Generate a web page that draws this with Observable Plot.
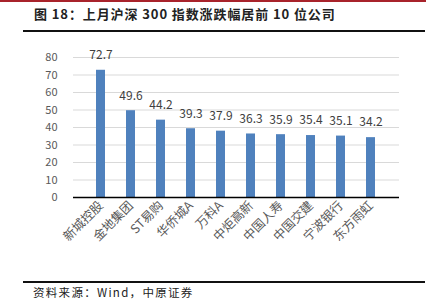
<!DOCTYPE html>
<html><head><meta charset="utf-8">
<script src="https://cdn.jsdelivr.net/npm/d3@7"></script>
<script src="https://cdn.jsdelivr.net/npm/@observablehq/plot@0.6"></script>
<style>
body{margin:0;background:#fff;width:433px;height:301px;position:relative;overflow:hidden;font-family:"Noto Sans CJK SC",sans-serif;}
#topbar{position:absolute;left:0;top:0;width:426px;height:2px;background:#a8232b;}
#title{position:absolute;left:34px;top:6px;font-size:13px;line-height:16px;font-weight:bold;color:#222;white-space:nowrap;letter-spacing:0.9px;}
#rule1{position:absolute;left:23px;top:30px;width:402px;height:2px;background:#111;}
#rule2{position:absolute;left:23px;top:281px;width:402px;height:2px;background:#111;}
#source{position:absolute;left:33px;top:286px;font-size:11.5px;line-height:13px;color:#222;white-space:nowrap;letter-spacing:1.3px;}
#chart{position:absolute;left:0;top:35px;}
</style></head><body>
<div id="topbar"></div>
<div id="title">图 18：上月沪深 300 指数涨跌幅居前 10 位公司</div>
<div id="rule1"></div>
<div id="chart"></div>
<div id="rule2"></div>
<div id="source">资料来源：Wind，中原证券</div>
<script>
const companies = ["新城控股","金地集团","ST易购","华侨城A","万科A","中炬高新","中国人寿","中国交建","宁波银行","东方雨虹"];
const changes = [72.7,49.6,44.2,39.3,37.9,36.3,35.9,35.4,35.1,34.2];
const yTicks = [0,10,20,30,40,50,60,70,80];
const data = companies.map((c,i)=>({name:c,value:changes[i]}));
const plot = Plot.plot({
  width:433, height:240,
  marginLeft:73, marginRight:34, marginTop:22, marginBottom:78,
  style:{fontFamily:'"Noto Sans CJK SC",sans-serif', background:"transparent"},
  x:{domain:companies, padding:0.69, label:null},
  y:{domain:[0,80], ticks:yTicks, label:null},
  marks:[
    Plot.gridY(yTicks.filter(d=>d>0), {stroke:"#d9d9d9", strokeOpacity:1, strokeWidth:1}),
    Plot.barY(data,{x:"name", y:"value", fill:"#4f81bd"}),
    Plot.ruleY([0],{stroke:"#000", strokeWidth:1.5}),
    Plot.text(data,{x:"name", y:"value", text:d=>d.value.toFixed(1), dy:-15, fontSize:12, fill:"#404040"}),
    Plot.axisY({ticks:yTicks, tickSize:0, tickPadding:16, fontSize:11, color:"#595959", label:null}),
    Plot.axisX({tickSize:0, tickPadding:6, tickRotate:-45, fontSize:12.5, color:"#595959", label:null})
  ]
});
document.getElementById("chart").appendChild(plot);
</script>
</body></html>
